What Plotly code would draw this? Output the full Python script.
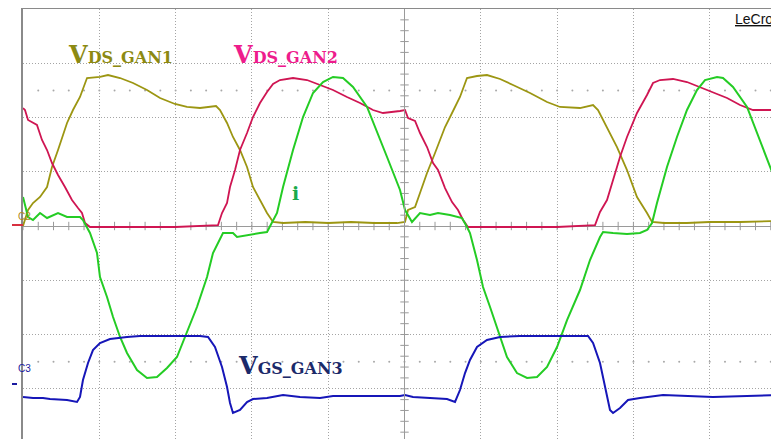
import numpy as np
import plotly.graph_objects as go

# Oscilloscope capture, values in screen divisions (time div, amplitude div)
t_vds1 = [0, 0.066, 0.131, 0.223, 0.315, 0.380, 0.459, 0.577, 0.655, 0.747, 0.839, 1.009, 1.114, 1.272,
          1.442, 1.625, 1.796, 1.992, 2.149, 2.320, 2.530, 2.582, 2.674, 2.752, 2.844, 2.936, 3.014, 3.106,
          3.198, 3.277, 3.408, 3.7, 4.0, 4.3, 4.6, 4.9, 5.007, 5.046, 5.138, 5.203, 5.295, 5.400, 5.531, 5.623,
          5.727, 5.819, 5.950, 6.081, 6.252, 6.422, 6.645, 6.868, 7.038, 7.300, 7.471, 7.536, 7.654, 7.785,
          7.916, 8.047, 8.178, 8.244, 8.4, 8.7, 9.0, 9.4, 9.908]
v_vds1 = [0.0, 0.295, 0.424, 0.535, 0.719, 1.088, 1.401, 1.899, 2.138, 2.378, 2.728, 2.747, 2.783, 2.728,
          2.636, 2.507, 2.359, 2.249, 2.194, 2.175, 2.212, 2.138, 1.899, 1.641, 1.401, 1.088, 0.719, 0.479,
          0.240, 0.074, 0.055, 0.074, 0.055, 0.074, 0.055, 0.055, 0.074, 0.295, 0.350, 0.608, 0.977, 1.346,
          1.825, 2.083, 2.378, 2.728, 2.765, 2.783, 2.710, 2.599, 2.452, 2.286, 2.194, 2.175, 2.230, 2.138,
          1.825, 1.456, 1.032, 0.535, 0.240, 0.074, 0.055, 0.055, 0.074, 0.074, 0.092]

t_vds2 = [0, 0.026, 0.066, 0.131, 0.183, 0.249, 0.315, 0.380, 0.459, 0.550, 0.642, 0.721, 0.773, 0.813,
          0.878, 1.5, 2.0, 2.556, 2.608, 2.674, 2.713, 2.779, 2.844, 2.936, 3.014, 3.106, 3.198, 3.277, 3.368,
          3.539, 3.722, 3.893, 4.063, 4.246, 4.417, 4.587, 4.718, 4.941, 5.007, 5.046, 5.138, 5.203, 5.295,
          5.374, 5.439, 5.531, 5.623, 5.701, 5.767, 5.832, 6.5, 7.0, 7.497, 7.562, 7.654, 7.733, 7.824, 7.916,
          8.047, 8.178, 8.257, 8.349, 8.519, 8.702, 8.873, 9.043, 9.227, 9.397, 9.567, 9.908]
v_vds2 = [2.175, 2.138, 1.954, 1.899, 1.862, 1.585, 1.401, 1.161, 0.940, 0.719, 0.479, 0.332, 0.240, 0.055,
          -0.018, -0.018, -0.018, 0.018, 0.240, 0.424, 0.719, 1.032, 1.401, 1.714, 2.009, 2.267, 2.470, 2.618,
          2.691, 2.728, 2.691, 2.599, 2.507, 2.378, 2.267, 2.138, 2.083, 2.120, 2.138, 1.991, 1.935, 1.714,
          1.456, 1.161, 1.032, 0.700, 0.442, 0.295, 0.111, -0.018, -0.018, -0.018, 0.018, 0.258, 0.479, 0.848,
          1.272, 1.641, 2.083, 2.415, 2.636, 2.691, 2.710, 2.654, 2.562, 2.470, 2.359, 2.230, 2.138, 2.138]

t_i = [0, 0.066, 0.131, 0.223, 0.315, 0.459, 0.577, 0.747, 0.786, 0.852, 0.878, 0.970, 1.009, 1.101, 1.180,
       1.272, 1.363, 1.494, 1.625, 1.756, 1.887, 2.018, 2.149, 2.280, 2.412, 2.490, 2.621, 2.752, 2.805, 2.936,
       3.106, 3.198, 3.263, 3.329, 3.408, 3.539, 3.670, 3.801, 3.932, 4.063, 4.194, 4.325, 4.509, 4.640, 4.771,
       4.941, 5.007, 5.098, 5.203, 5.334, 5.439, 5.596, 5.754, 5.819, 5.858, 5.950, 6.029, 6.121, 6.212, 6.343,
       6.474, 6.606, 6.737, 6.868, 6.999, 7.130, 7.300, 7.431, 7.562, 7.602, 7.733, 7.916, 8.086, 8.178, 8.244,
       8.309, 8.440, 8.571, 8.702, 8.833, 8.938, 9.096, 9.174, 9.305, 9.489, 9.659, 9.790, 9.908]
v_i = [0.535, 0.166, 0.111, 0.240, 0.147, 0.240, 0.166, 0.166, 0.111, -0.074, -0.129, -0.498, -0.940, -1.309,
       -1.677, -2.046, -2.341, -2.654, -2.802, -2.783, -2.618, -2.415, -1.972, -1.493, -0.940, -0.498, -0.129,
       -0.129, -0.203, -0.166, -0.129, -0.111, 0.055, 0.240, 0.719, 1.401, 2.009, 2.452, 2.654, 2.747, 2.728,
       2.562, 2.194, 1.714, 1.272, 0.664, 0.295, 0.074, 0.240, 0.203, 0.240, 0.203, 0.147, -0.018, -0.129,
       -0.627, -1.124, -1.493, -1.862, -2.415, -2.710, -2.802, -2.783, -2.599, -2.230, -1.733, -1.180, -0.627,
       -0.203, -0.111, -0.129, -0.147, -0.129, -0.074, 0.055, 0.424, 1.088, 1.641, 2.138, 2.507, 2.691, 2.747,
       2.728, 2.562, 2.194, 1.585, 1.088, 0.664]

t_vgs = [0, 0.131, 0.262, 0.354, 0.577, 0.708, 0.747, 0.786, 0.852, 0.917, 1.009, 1.140, 1.363, 1.533, 2.320,
         2.425, 2.516, 2.608, 2.674, 2.713, 2.752, 2.844, 2.936, 3.014, 3.198, 3.408, 3.630, 3.893, 4.063, 4.941,
         5.007, 5.111, 5.334, 5.557, 5.662, 5.727, 5.793, 5.858, 5.950, 6.081, 6.252, 6.514, 7.405, 7.471, 7.562,
         7.628, 7.693, 7.733, 7.824, 7.929, 8.086, 8.388, 9.043, 9.908]
v_vgs = [-3.152, -3.170, -3.170, -3.189, -3.207, -3.244, -3.152, -2.839, -2.525, -2.286, -2.157, -2.083,
         -2.046, -2.028, -2.028, -2.046, -2.230, -2.599, -2.968, -3.263, -3.447, -3.392, -3.244, -3.189, -3.170,
         -3.115, -3.152, -3.170, -3.134, -3.134, -3.115, -3.152, -3.170, -3.189, -3.244, -3.023, -2.710, -2.470,
         -2.230, -2.101, -2.046, -2.028, -2.028, -2.157, -2.525, -2.968, -3.392, -3.447, -3.355, -3.207, -3.170,
         -3.115, -3.152, -3.115]

# page is 779x439; the html body has an 8px margin, so the figure starts at (8, 8)
OFF = 8
W, H = 779 - OFF, 439 - OFF
X0, Y0 = 23 - OFF, 9 - OFF          # screen frame origin in figure pixels
X_RANGE = [0, 9.908]
Y_RANGE = [-3.926, 4.0]

def px(x):  # page pixel -> paper fraction
    return (x - OFF) / W

def py(y):
    return 1 - (y - OFF) / H

fig = go.Figure()

# center-axis tick marks and dotted reference rows
ticks_x = np.round(np.arange(0, 9.95, 0.2), 3)
ticks_y = np.round(np.arange(-3.8, 4.0, 0.2), 3)
fig.add_trace(go.Scatter(x=ticks_x, y=np.zeros_like(ticks_x), mode="markers",
                         marker=dict(symbol="line-ns", size=6, line=dict(color="#9a9a9a", width=1)),
                         hoverinfo="skip", showlegend=False))
fig.add_trace(go.Scatter(x=np.full_like(ticks_y, 5.0), y=ticks_y, mode="markers",
                         marker=dict(symbol="line-ew", size=6, line=dict(color="#9a9a9a", width=1)),
                         hoverinfo="skip", showlegend=False))
for yr in (2.5, -2.5):
    fig.add_trace(go.Scatter(x=ticks_x[1:], y=np.full(len(ticks_x) - 1, yr), mode="markers",
                             marker=dict(size=2, color="#a8a8a8"), hoverinfo="skip", showlegend=False))

fig.add_trace(go.Scatter(x=t_vds1, y=v_vds1, mode="lines", line=dict(color="#9c9612", width=1.8),
                         showlegend=False))
fig.add_trace(go.Scatter(x=t_vds2, y=v_vds2, mode="lines", line=dict(color="#cf1552", width=1.8),
                         showlegend=False))
fig.add_trace(go.Scatter(x=t_i, y=v_i, mode="lines", line=dict(color="#24cc24", width=2),
                         showlegend=False))
fig.add_trace(go.Scatter(x=t_vgs, y=v_vgs, mode="lines", line=dict(color="#1616b8", width=2),
                         showlegend=False))

fig.add_vline(x=5, line=dict(color="#9a9a9a", width=1))

serif = "DejaVu Serif"
def lbl(name, sub, x, y, color):
    fig.add_annotation(x=x, y=y, xref="x", yref="y", xanchor="left", yanchor="middle", showarrow=False,
                       text=f"<b><span style='font-size:24px'>{name}</span>{sub}</b>",
                       font=dict(family=serif, size=16, color=color))

lbl("V", "DS_GAN1", 0.57, 3.17, "#8c8a12")
lbl("V", "DS_GAN2", 2.72, 3.17, "#ee1c8c")
lbl("V", "GS_GAN3", 2.79, -2.58, "#1c2a6a")
fig.add_annotation(x=3.57, y=0.6, xref="x", yref="y", showarrow=False, text="<b>i</b>",
                   font=dict(family=serif, size=19, color="#1aaa4a"))

fig.add_annotation(x=px(733), y=py(19), xref="paper", yref="paper", xanchor="left", yanchor="middle",
                   showarrow=False, text="<u>LeCroy</u>",
                   font=dict(family="Liberation Sans", size=14, color="#111111"))
fig.add_annotation(x=px(16), y=py(217), xref="paper", yref="paper", showarrow=False, text="C2",
                   font=dict(family="Liberation Sans", size=10, color="#b08a18"))
fig.add_annotation(x=px(16), y=py(376), xref="paper", yref="paper", showarrow=False, text="C3",
                   font=dict(family="Liberation Sans", size=10, color="#1a1aa0"))
fig.add_shape(type="line", xref="paper", yref="paper", x0=px(12), x1=px(23), y0=py(225), y1=py(225),
              line=dict(color="#d83040", width=2))
fig.add_shape(type="line", xref="paper", yref="paper", x0=px(12), x1=px(17), y0=py(384), y1=py(384),
              line=dict(color="#1a1aa0", width=2))

grid = dict(showgrid=True, gridcolor="#a4a4a4", griddash="1px,2px", gridwidth=1, dtick=1, tick0=0,
            showticklabels=False, ticks="", zeroline=False, showline=True, linecolor="#8a8a8a", linewidth=1.5,
            automargin=False)
fig.update_layout(
    width=W, height=H, margin=dict(l=0, r=0, t=0, b=0, pad=0, autoexpand=False),
    paper_bgcolor="white", plot_bgcolor="white", showlegend=False,
    xaxis=dict(domain=[X0 / W, 1], range=X_RANGE, side="top", **grid),
    yaxis=dict(domain=[0, 1 - Y0 / H], range=Y_RANGE, **grid),
)
fig.update_yaxes(zeroline=True, zerolinecolor="#9a9a9a", zerolinewidth=1)

fig.write_html("out.html")
